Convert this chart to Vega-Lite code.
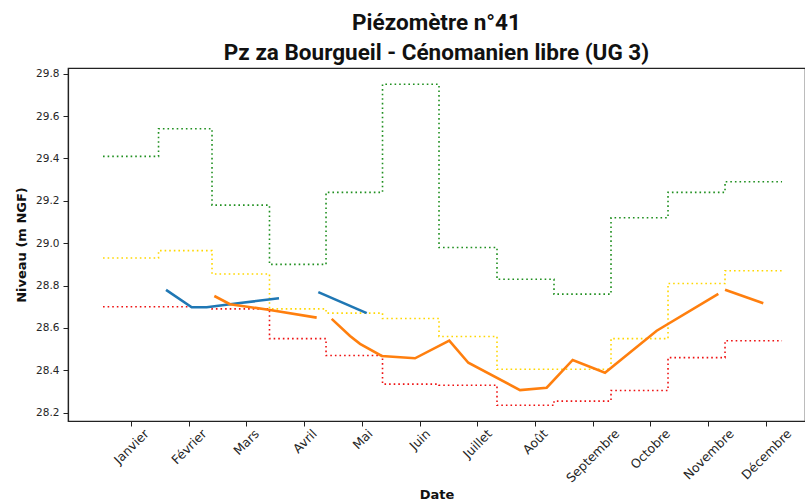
{
  "$schema": "https://vega.github.io/schema/vega-lite/v6.json",
  "width": 737,
  "height": 353,
  "autosize": "none",
  "padding": {"left": 68, "top": 68, "right": 0, "bottom": 80},
  "background": "white",
  "title": {
    "text": ["Piézomètre n°41", "Pz za Bourgueil - Cénomanien libre (UG 3)"],
    "font": "Roboto",
    "fontWeight": "bold",
    "fontSize": 22.5,
    "lineHeight": 30,
    "color": "#111111",
    "anchor": "middle",
    "offset": 4
  },
  "config": {
    "view": {"stroke": "#222222", "strokeWidth": 1.2},
    "axis": {
      "grid": false,
      "domainColor": "#222222",
      "domainWidth": 1.2,
      "tickColor": "#222222",
      "tickSize": 5,
      "labelFont": "DejaVu Sans",
      "labelFontSize": 10.5,
      "labelColor": "#262626",
      "titleFont": "DejaVu Sans",
      "titleFontWeight": "bold",
      "titleFontSize": 13,
      "titleColor": "#111111"
    }
  },
  "data": {
    "values": [
      {"serie": "vert", "seg": "v", "x": 0.515, "niveau": 29.41},
      {"serie": "vert", "seg": "v", "x": 1.477, "niveau": 29.54},
      {"serie": "vert", "seg": "v", "x": 2.404, "niveau": 29.18},
      {"serie": "vert", "seg": "v", "x": 3.4, "niveau": 28.9},
      {"serie": "vert", "seg": "v", "x": 4.38, "niveau": 29.24},
      {"serie": "vert", "seg": "v", "x": 5.359, "niveau": 29.75},
      {"serie": "vert", "seg": "v", "x": 6.338, "niveau": 28.98},
      {"serie": "vert", "seg": "v", "x": 7.343, "niveau": 28.83},
      {"serie": "vert", "seg": "v", "x": 8.331, "niveau": 28.76},
      {"serie": "vert", "seg": "v", "x": 9.319, "niveau": 29.12},
      {"serie": "vert", "seg": "v", "x": 10.307, "niveau": 29.24},
      {"serie": "vert", "seg": "v", "x": 11.295, "niveau": 29.29},
      {"serie": "vert", "seg": "v", "x": 12.283, "niveau": 29.29},
      {"serie": "jaune", "seg": "j", "x": 0.515, "niveau": 28.93},
      {"serie": "jaune", "seg": "j", "x": 1.477, "niveau": 28.965},
      {"serie": "jaune", "seg": "j", "x": 2.404, "niveau": 28.855},
      {"serie": "jaune", "seg": "j", "x": 3.4, "niveau": 28.69},
      {"serie": "jaune", "seg": "j", "x": 4.38, "niveau": 28.67},
      {"serie": "jaune", "seg": "j", "x": 5.359, "niveau": 28.645},
      {"serie": "jaune", "seg": "j", "x": 6.338, "niveau": 28.56},
      {"serie": "jaune", "seg": "j", "x": 7.343, "niveau": 28.405},
      {"serie": "jaune", "seg": "j", "x": 8.331, "niveau": 28.405},
      {"serie": "jaune", "seg": "j", "x": 9.319, "niveau": 28.55},
      {"serie": "jaune", "seg": "j", "x": 10.307, "niveau": 28.81},
      {"serie": "jaune", "seg": "j", "x": 11.295, "niveau": 28.87},
      {"serie": "jaune", "seg": "j", "x": 12.283, "niveau": 28.87},
      {"serie": "rouge", "seg": "r", "x": 0.515, "niveau": 28.7},
      {"serie": "rouge", "seg": "r", "x": 1.477, "niveau": 28.7},
      {"serie": "rouge", "seg": "r", "x": 2.404, "niveau": 28.69},
      {"serie": "rouge", "seg": "r", "x": 3.4, "niveau": 28.55},
      {"serie": "rouge", "seg": "r", "x": 4.38, "niveau": 28.47},
      {"serie": "rouge", "seg": "r", "x": 5.359, "niveau": 28.335},
      {"serie": "rouge", "seg": "r", "x": 6.338, "niveau": 28.33},
      {"serie": "rouge", "seg": "r", "x": 7.343, "niveau": 28.235},
      {"serie": "rouge", "seg": "r", "x": 8.331, "niveau": 28.255},
      {"serie": "rouge", "seg": "r", "x": 9.319, "niveau": 28.305},
      {"serie": "rouge", "seg": "r", "x": 10.307, "niveau": 28.46},
      {"serie": "rouge", "seg": "r", "x": 11.295, "niveau": 28.54},
      {"serie": "rouge", "seg": "r", "x": 12.283, "niveau": 28.54},
      {"serie": "bleu", "seg": "b1", "x": 1.607, "niveau": 28.78},
      {"serie": "bleu", "seg": "b1", "x": 2.052, "niveau": 28.698},
      {"serie": "bleu", "seg": "b1", "x": 2.312, "niveau": 28.698},
      {"serie": "bleu", "seg": "b1", "x": 2.889, "niveau": 28.718},
      {"serie": "bleu", "seg": "b1", "x": 3.565, "niveau": 28.74},
      {"serie": "bleu", "seg": "b2", "x": 4.246, "niveau": 28.769},
      {"serie": "bleu", "seg": "b2", "x": 5.085, "niveau": 28.67},
      {"serie": "orange", "seg": "o1", "x": 2.444, "niveau": 28.751},
      {"serie": "orange", "seg": "o1", "x": 2.716, "niveau": 28.712},
      {"serie": "orange", "seg": "o1", "x": 3.409, "niveau": 28.685},
      {"serie": "orange", "seg": "o1", "x": 4.218, "niveau": 28.649},
      {"serie": "orange", "seg": "o2", "x": 4.478, "niveau": 28.643},
      {"serie": "orange", "seg": "o2", "x": 4.796, "niveau": 28.562},
      {"serie": "orange", "seg": "o2", "x": 4.969, "niveau": 28.525},
      {"serie": "orange", "seg": "o2", "x": 5.345, "niveau": 28.468},
      {"serie": "orange", "seg": "o2", "x": 5.922, "niveau": 28.457},
      {"serie": "orange", "seg": "o2", "x": 6.516, "niveau": 28.54},
      {"serie": "orange", "seg": "o2", "x": 6.846, "niveau": 28.436},
      {"serie": "orange", "seg": "o2", "x": 7.742, "niveau": 28.307},
      {"serie": "orange", "seg": "o2", "x": 8.204, "niveau": 28.318},
      {"serie": "orange", "seg": "o2", "x": 8.655, "niveau": 28.449},
      {"serie": "orange", "seg": "o2", "x": 9.215, "niveau": 28.389},
      {"serie": "orange", "seg": "o2", "x": 10.111, "niveau": 28.587},
      {"serie": "orange", "seg": "o2", "x": 11.179, "niveau": 28.761},
      {"serie": "orange", "seg": "o3", "x": 11.295, "niveau": 28.78},
      {"serie": "orange", "seg": "o3", "x": 11.958, "niveau": 28.717}
    ]
  },
  "encoding": {
    "x": {
      "field": "x",
      "type": "quantitative",
      "title": "Date",
      "scale": {"domain": [-0.092, 12.681], "nice": false, "zero": false},
      "axis": {
        "values": [1, 2, 3, 4, 5, 6, 7, 8, 9, 10, 11, 12],
        "labelExpr": "['Janvier','Février','Mars','Avril','Mai','Juin','Juillet','Août','Septembre','Octobre','Novembre','Décembre'][datum.value - 1]",
        "labelFontSize": 12.5,
        "labelAngle": -45,
        "labelAlign": "right",
        "labelBaseline": "top",
        "labelPadding": 1,
        "labelOffset": {
          "condition": [
            {"test": "datum.value == 1", "value": 11},
            {"test": "datum.value == 2", "value": 11},
            {"test": "datum.value == 3", "value": 6},
            {"test": "datum.value == 4", "value": 6},
            {"test": "datum.value == 5", "value": 4},
            {"test": "datum.value == 6", "value": 4},
            {"test": "datum.value == 7", "value": 8},
            {"test": "datum.value == 8", "value": 6},
            {"test": "datum.value == 9", "value": 20},
            {"test": "datum.value == 10", "value": 13},
            {"test": "datum.value == 11", "value": 19},
            {"test": "datum.value == 12", "value": 19}
          ],
          "value": 0
        },
        "labelOverlap": false,
        "titlePadding": 4
      }
    },
    "y": {
      "field": "niveau",
      "type": "quantitative",
      "title": "Niveau (m NGF)",
      "scale": {"domain": [28.161, 29.827], "nice": false, "zero": false},
      "axis": {
        "values": [28.2, 28.4, 28.6, 28.8, 29.0, 29.2, 29.4, 29.6, 29.8],
        "format": ".1f",
        "labelPadding": 4,
        "titlePadding": 7
      }
    },
    "detail": {"field": "seg"}
  },
  "layer": [
    {
      "transform": [{"filter": "datum.serie == 'vert' || datum.serie == 'jaune' || datum.serie == 'rouge'"}],
      "mark": {"type": "line", "interpolate": "step-after", "strokeWidth": 1.6, "strokeDash": [1.6, 3.0]},
      "encoding": {
        "color": {
          "field": "serie",
          "type": "nominal",
          "scale": {"domain": ["vert", "jaune", "rouge"], "range": ["#1f8f1f", "#ffd700", "#ee1111"]},
          "legend": null
        }
      }
    },
    {
      "transform": [{"filter": "datum.serie == 'bleu' || datum.serie == 'orange'"}],
      "mark": {"type": "line", "strokeWidth": 2.6, "strokeCap": "butt"},
      "encoding": {
        "stroke": {
          "field": "serie",
          "type": "nominal",
          "scale": {"domain": ["bleu", "orange"], "range": ["#1f77b4", "#ff7f0e"]},
          "legend": null
        }
      }
    }
  ]
}
